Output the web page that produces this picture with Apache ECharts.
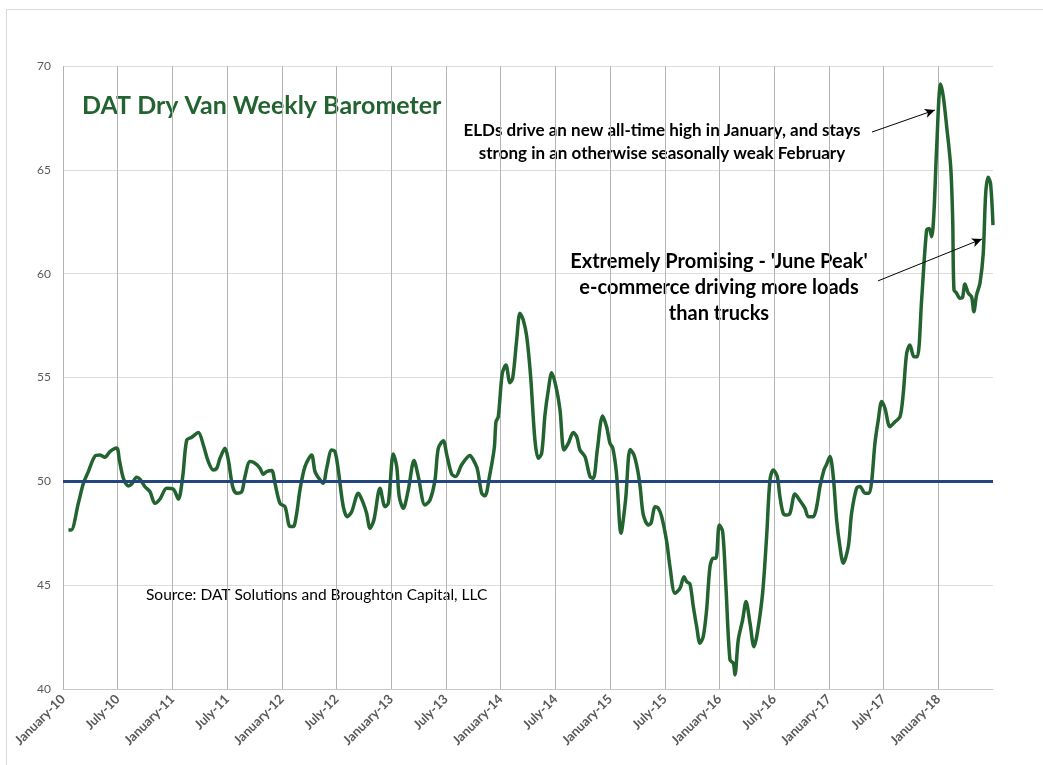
<!DOCTYPE html>
<html>
<head>
<meta charset="utf-8">
<script src="https://cdn.jsdelivr.net/npm/echarts@6/dist/echarts.min.js"></script>
<style>
  html, body { margin: 0; padding: 0; background: #fff; overflow: hidden; }
  #frame { position: absolute; left: 6px; top: 9px; width: 1100px; height: 800px; border: 1px solid #d9d9d9; }
  #main { position: absolute; left: 0; top: 0; width: 1043px; height: 765px; }
</style>
</head>
<body>
<div id="frame"></div>
<div id="main"></div>
<script>
// x position = months since January 2010
const monthPos = [
  0.6, 0.9, 1.68, 2.23, 2.78, 3.51, 4.06, 4.6, 5.15, 5.89, 6.18, 6.62, 7.17, 7.53, 8.08, 8.44, 8.99, 9.54,
  10.09, 10.64, 11.37, 12.1, 12.65, 13.13, 13.57, 14.12, 14.84, 15.39, 15.94, 16.48, 16.86, 17.22, 17.77,
  18.13, 18.61, 19.05, 19.6, 19.96, 20.51, 21.06, 21.6, 21.97, 22.34, 22.89, 23.25, 23.8, 24.35, 24.9,
  25.26, 25.63, 25.99, 26.54, 27.27, 27.64, 28.19, 28.55, 28.92, 29.47, 29.83, 30.19, 30.74, 31.18, 31.66,
  32.39, 32.94, 33.3, 33.67, 34.1, 34.77, 35.32, 35.68, 36.23, 36.6, 36.88, 37.32, 37.87, 38.5, 38.97,
  39.7, 40.25, 40.8, 41.16, 41.71, 42.08, 42.63, 43.07, 43.72, 44.64, 45.0, 45.44, 45.92, 46.28, 46.8,
  47.3, 47.49, 47.74, 48.18, 48.58, 49.02, 49.32, 49.76, 50.12, 50.48, 50.86, 51.29, 51.76, 52.13, 52.5,
  52.86, 53.23, 53.6, 54.07, 54.51, 54.95, 55.42, 55.97, 56.34, 56.7, 57.25, 57.8, 58.16, 58.6, 59.18,
  59.62, 59.99, 60.3, 60.7, 61.2, 61.7, 62.2, 62.6, 63.0, 63.3, 63.65, 64.2, 64.5, 64.95, 65.3, 65.66,
  66.21, 66.57, 67.12, 67.67, 68.11, 68.4, 68.76, 69.13, 69.5, 69.86, 70.22, 70.59, 70.96, 71.32, 71.62,
  71.98, 72.35, 72.71, 73.15, 73.52, 73.7, 74.06, 74.54, 74.91, 75.35, 75.78, 76.15, 76.73, 77.17, 77.54,
  77.9, 78.34, 78.63, 78.99, 79.36, 79.73, 80.28, 80.83, 81.38, 81.74, 82.29, 82.66, 83.02, 83.46, 83.73,
  84.12, 84.48, 84.85, 85.21, 85.58, 86.13, 86.49, 87.04, 87.41, 87.96, 88.4, 88.69, 89.05, 89.42, 89.79,
  90.15, 90.7, 91.25, 91.8, 92.16, 92.53, 92.89, 93.33, 93.7, 94.17, 94.72, 95.0, 95.27, 95.52, 95.81,
  96.25, 96.55, 96.92, 97.36, 97.58, 97.72, 98.01, 98.37, 98.65, 98.92, 99.29, 99.65, 99.9, 100.2, 100.57,
  100.93, 101.2, 101.47, 101.73, 102.0
];
const barometer = [
  47.66, 47.66, 48.94, 49.9, 50.47, 51.22, 51.27, 51.16, 51.43, 51.6, 51.03, 50.15, 49.78, 49.87, 50.2, 50.1, 49.74, 49.5,
  48.94, 49.15, 49.67, 49.62, 49.14, 50.23, 51.99, 52.12, 52.35, 51.75, 50.95, 50.55, 50.63, 51.11, 51.59,
  51.03, 49.74, 49.43, 49.5, 50.23, 50.95, 50.87, 50.63, 50.34, 50.47, 50.52, 49.9, 48.94, 48.78, 47.82,
  47.82, 48.46, 49.59, 50.71, 51.27, 50.47, 50.07, 49.91, 50.63, 51.51, 51.43, 50.55, 48.78, 48.3, 48.54,
  49.43, 48.94, 48.46, 47.74, 48.14, 49.67, 48.78, 48.94, 51.32, 50.71, 49.26, 48.7, 49.59, 51.0, 50.23,
  48.86, 49.1, 50.07, 51.59, 51.96, 51.3, 50.35, 50.23, 50.8, 51.25, 51.03, 50.6, 49.43, 49.3, 50.3,
  51.6, 52.87, 53.11, 55.2, 55.6, 54.75, 54.96, 56.81, 58.09, 57.77, 56.97, 55.04, 51.99, 51.11, 51.35,
  53.2, 54.4, 55.23, 54.56, 53.44, 51.51, 51.83, 52.35, 52.15, 51.51, 51.19, 50.23, 50.15, 51.51, 53.15,
  52.63, 51.83, 51.6, 50.4, 47.5, 49.1, 51.53, 51.3, 50.6, 49.74, 48.38, 47.9, 48.0, 48.78, 48.7, 48.3,
  47.1, 45.89, 44.61, 44.85, 45.41, 45.17, 45.06, 43.97, 43.0, 42.2, 42.52, 43.81, 45.89, 46.3, 46.3,
  47.9, 47.58, 44.93, 41.4, 41.24, 40.68, 42.36, 43.33, 44.21, 43.17, 42.04, 42.69, 44.61, 47.34, 50.07,
  50.55, 50.23, 49.26, 48.46, 48.38, 48.46, 49.39, 49.07, 48.7, 48.3, 48.3, 48.78, 49.74, 50.55, 50.8,
  51.19, 50.23, 48.14, 46.86, 46.06, 46.86, 48.46, 49.67, 49.75, 49.43, 49.43, 49.99, 51.83, 52.96, 53.84,
  53.52, 52.63, 52.87, 53.11, 54.24, 56.17, 56.57, 56.0, 56.0, 58.73, 62.1, 62.18, 61.78, 62.91, 65.96,
  69.13, 68.52, 67.08, 65.15, 62.59, 59.22, 59.06, 58.82, 58.85, 59.5, 59.06, 58.89, 58.17, 58.98, 59.54,
  60.98, 63.87, 64.64, 64.35, 62.34
];
const tickLabels = [
  'January-10', 'July-10', 'January-11', 'July-11', 'January-12', 'July-12', 'January-13', 'July-13',
  'January-14', 'July-14', 'January-15', 'July-15', 'January-16', 'July-16', 'January-17', 'July-17', 'January-18'
];
const baseline = 50;
// arrow start/end in data units [month, value]
const arrowElds = [[88.73, 66.82], [95.63, 67.88]];
const arrowJune = [[89.38, 59.65], [100.79, 61.67]];

const chart = echarts.init(document.getElementById('main'), null, { renderer: 'canvas' });
const font = 'Lato, "Open Sans", sans-serif';
const green = '#22632f';

const arrowItem = (a) => [
  { coord: a[0], symbol: 'none' },
  { coord: a[1], symbol: 'arrow', symbolSize: [7, 10] }
];

const option = {
  animation: false,
  grid: { left: 63, right: 50, top: 66, bottom: 76 },
  xAxis: {
    type: 'value',
    min: 0,
    max: 102,
    interval: 6,
    axisLine: { show: true, lineStyle: { color: '#c8c8c8', width: 1 } },
    axisTick: { show: false },
    axisLabel: {
      rotate: 45,
      margin: 8,
      color: '#595959',
      fontFamily: font,
      fontWeight: 'bold',
      fontSize: 13,
      formatter: (v) => tickLabels[Math.round(v / 6)] || ''
    },
    splitLine: { show: true, showMaxLine: false, lineStyle: { color: '#b4b4b4', width: 1 } }
  },
  yAxis: {
    type: 'value',
    min: 40,
    max: 70,
    interval: 5,
    axisLine: { show: false },
    axisTick: { show: false },
    axisLabel: { color: '#595959', fontFamily: font, fontSize: 12, margin: 12 },
    splitLine: { lineStyle: { color: '#dcdcdc', width: 1 } }
  },
  series: [
    {
      type: 'line',
      data: monthPos.map((m, i) => [m, barometer[i]]),
      showSymbol: false,
      smooth: 0.3,
      lineStyle: { color: green, width: 3.5 },
      z: 3,
      markLine: {
        silent: true,
        symbol: ['none', 'none'],
        label: { show: false },
        data: [
          { yAxis: baseline, lineStyle: { color: '#24467f', width: 3, type: 'solid' } },
          arrowItem(arrowElds),
          arrowItem(arrowJune)
        ],
        lineStyle: { color: '#000', width: 1, type: 'solid' },
        emphasis: { disabled: true }
      }
    }
  ],
  graphic: [
    {
      type: 'text', left: 82, top: 93,
      style: { text: 'DAT Dry Van Weekly Barometer', fill: green, font: 'bold 25px ' + font }
    },
    {
      type: 'text', x: 662, y: 119,
      style: {
        text: 'ELDs drive an new all-time high in January, and stays\nstrong in an otherwise seasonally weak February',
        fill: '#000', font: 'bold 17px ' + font, align: 'center', lineHeight: 23
      }
    },
    {
      type: 'text', x: 719, y: 249,
      style: {
        text: "Extremely Promising - 'June Peak'\ne-commerce driving more loads\nthan trucks",
        fill: '#000', font: 'bold 20px ' + font, align: 'center', lineHeight: 26
      }
    },
    {
      type: 'text', left: 146, top: 587,
      style: { text: 'Source: DAT Solutions and Broughton Capital, LLC', fill: '#000', font: '15.5px ' + font }
    }
  ]
};

chart.setOption(option);
</script>
</body>
</html>
